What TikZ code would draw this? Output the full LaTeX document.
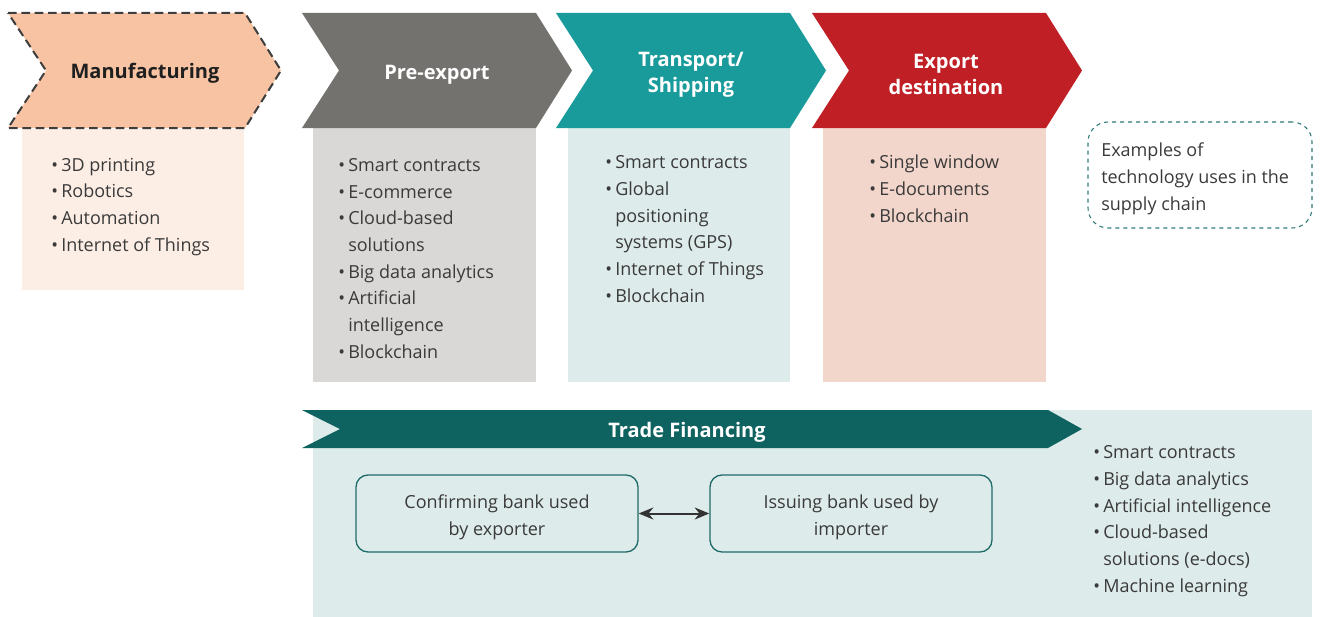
\documentclass[tikz,border=0pt]{standalone}
\usepackage{fontspec}
\setmainfont{Open Sans}
\usetikzlibrary{arrows.meta}
\definecolor{manchev}{HTML}{F8C3A3}
\definecolor{manbody}{HTML}{FDEEE5}
\definecolor{prechev}{HTML}{74726F}
\definecolor{prebody}{HTML}{D9D8D6}
\definecolor{trachev}{HTML}{1A9B9B}
\definecolor{trabody}{HTML}{DDEBEA}
\definecolor{expchev}{HTML}{C01F26}
\definecolor{expbody}{HTML}{F3D6CB}
\definecolor{finband}{HTML}{0E6260}
\definecolor{finbody}{HTML}{DDEBEA}
\definecolor{bankline}{HTML}{1F6B68}
\definecolor{legline}{HTML}{2E7A78}
\definecolor{txt}{HTML}{3A3A3A}
\definecolor{dashline}{HTML}{3D3D3D}
\newcommand\bitem[1]{\makebox[7.5pt][l]{\textbullet}#1}
\newcommand\bcont[1]{\hspace*{7.5pt}#1}
\tikzset{
  listtext/.style={anchor=base west, inner sep=0pt, align=left, text=txt,
    font=\fontsize{13.5}{20}\selectfont},
  title/.style={text=white, align=center, inner sep=0pt,
    font=\fontsize{15}{19.5}\selectfont\bfseries},
  bank/.style={draw=bankline, line width=1pt, rounded corners=9pt, fill=finbody,
    minimum width=211.5pt, minimum height=57.75pt, align=center, text=txt,
    font=\fontsize{13.5}{20}\selectfont},
  legend/.style={draw=legline, dashed, dash pattern=on 3pt off 3pt, line width=0.8pt,
    rounded corners=15pt, minimum width=168pt, minimum height=79.5pt},
}
\newcommand\chevronshape[3]{%
  \fill[#3] (#1,13) -- (#2,13) -- ({#2+36},70.5) -- (#2,128) -- (#1,128) -- ({#1+37},70.5) -- cycle;}
\begin{document}
\begin{tikzpicture}[x=0.75pt,y=-0.75pt]
\useasboundingbox (0,0) rectangle (1324,617);
% bodies
\fill[manbody] (22,129) rectangle (244,290);
\fill[prebody] (313,128) rectangle (536,382);
\fill[trabody] (568,128) rectangle (790,382);
\fill[expbody] (823,128) rectangle (1046,382);
\fill[finbody] (313,410) rectangle (1312,617);
% chevrons
\draw[fill=manchev, draw=dashline, line width=1.5pt, dash pattern=on 6.5pt off 3.5pt]
  (8,13) -- (245,13) -- (281,70.5) -- (245,128) -- (8,128) -- (46,70.5) -- cycle;
\chevronshape{302}{536}{prechev}
\chevronshape{556}{790}{trachev}
\chevronshape{812}{1046}{expchev}
\fill[finband] (302,410) -- (1048,410) -- (1082,429) -- (1048,448) -- (302,448) -- (340,429) -- cycle;
% titles
\node[title, text={black!88}] (man) at (145,73) {Manufacturing};
\node[title] (pre) at (437,75) {Pre-export};
\node[title] (tra) at (691,75) {Transport/\\Shipping};
\node[title] (exp) at (946,74) {Export\\destination};
\node[title] (fin) at (687,432) {Trade Financing};
% lists (anchored at the baseline of their last line)
\node[listtext] (manlist) at (51,251) {\bitem{3D printing}\\\bitem{Robotics}\\\bitem{Automation}\\\bitem{Internet of Things}};
\node[listtext] (prelist) at (338,358) {\bitem{Smart contracts}\\\bitem{E-commerce}\\\bitem{Cloud-based}\\\bcont{solutions}\\\bitem{Big data analytics}\\\bitem{Artificial}\\\bcont{intelligence}\\\bitem{Blockchain}};
\node[listtext] (tralist) at (605,302) {\bitem{Smart contracts}\\\bitem{Global}\\\bcont{positioning}\\\bcont{systems (GPS)}\\\bitem{Internet of Things}\\\bitem{Blockchain}};
\node[listtext] (explist) at (869,222) {\bitem{Single window}\\\bitem{E-documents}\\\bitem{Blockchain}};
\node[listtext] (finlist) at (1093,592) {\bitem{Smart contracts}\\\bitem{Big data analytics}\\\bitem{Artificial intelligence}\\\bitem{Cloud-based}\\\bcont{solutions (e-docs)}\\\bitem{Machine learning}};
% legend
\node[legend] (leg) at (1200,175) {};
\node[listtext] (legtext) at (1101,210) {Examples of\\technology uses in the\\supply chain};
% banks
\node[bank] (conf) at (497,513.5) {\rule{0pt}{16pt}Confirming bank used\\by exporter};
\node[bank] (iss) at (851,513.5) {\rule{0pt}{16pt}Issuing bank used by\\importer};
\draw[{Stealth[length=11pt,width=9pt]}-{Stealth[length=11pt,width=9pt]}, line width=1.5pt, draw=black!80] (conf) -- (iss);
\end{tikzpicture}
\end{document}
